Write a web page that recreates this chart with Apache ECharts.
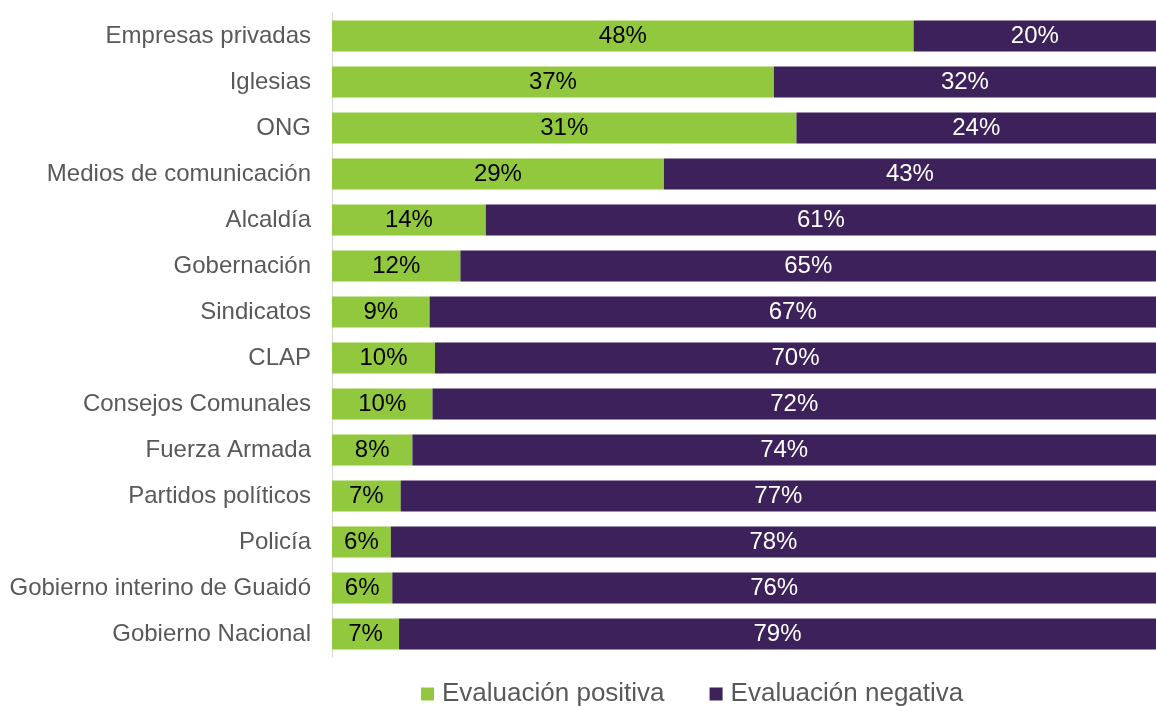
<!DOCTYPE html>
<html>
<head>
<meta charset="utf-8">
<script src="https://cdn.jsdelivr.net/npm/echarts@6/dist/echarts.min.js"></script>
<style>
  html, body { margin: 0; padding: 0; background: #fff; }
  #chart { width: 1156px; height: 706px; }
</style>
</head>
<body>
<div id="chart"></div>
<script>
const categories = [
  'Empresas privadas', 'Iglesias', 'ONG', 'Medios de comunicación', 'Alcaldía',
  'Gobernación', 'Sindicatos', 'CLAP', 'Consejos Comunales', 'Fuerza Armada',
  'Partidos políticos', 'Policía', 'Gobierno interino de Guaidó', 'Gobierno Nacional'
]
const positiva = [48, 37, 31, 29, 14, 12, 9, 10, 10, 8, 7, 6, 6, 7]
const negativa = [20, 32, 24, 43, 61, 65, 67, 70, 72, 74, 77, 78, 76, 79]

// bars are drawn as shares of (positiva + negativa), labels keep the raw %
const share = (arr) => arr.map((v, i) => v / (positiva[i] + negativa[i]))

const chart = echarts.init(document.getElementById('chart'))
const fontFamily = '"Liberation Sans", Arial, sans-serif'

chart.setOption({
  animation: false,
  textStyle: { fontFamily },
  grid: { left: 332, right: 0, top: 13, bottom: 49 },
  legend: {
    top: 676,
    left: 416,
    itemWidth: 13,
    itemHeight: 13,
    itemGap: 45,
    icon: 'rect',
    textStyle: { fontSize: 26, color: '#595959', fontFamily, padding: [0, 0, 0, 3] },
    data: ['Evaluación positiva', 'Evaluación negativa']
  },
  xAxis: {
    type: 'value',
    min: 0,
    max: 1,
    show: false
  },
  yAxis: {
    type: 'category',
    inverse: true,
    data: categories,
    axisLine: { lineStyle: { color: '#d9d9d9', width: 1 } },
    axisTick: { show: false },
    axisLabel: { fontSize: 24, color: '#595959', margin: 21, fontFamily, padding: [4, 0, 0, 0] }
  },
  series: [
    {
      name: 'Evaluación positiva',
      type: 'bar',
      stack: 'total',
      barCategoryGap: '33%',
      itemStyle: { color: '#92c83e' },
      label: {
        show: true,
        position: 'inside',
        fontSize: 24,
        color: '#000',
        fontFamily,
        formatter: (p) => positiva[p.dataIndex] + '%'
      },
      data: share(positiva)
    },
    {
      name: 'Evaluación negativa',
      type: 'bar',
      stack: 'total',
      barCategoryGap: '33%',
      itemStyle: { color: '#3c215a' },
      label: {
        show: true,
        position: 'inside',
        fontSize: 24,
        color: '#fff',
        fontFamily,
        formatter: (p) => negativa[p.dataIndex] + '%'
      },
      data: share(negativa)
    }
  ]
})
</script>
</body>
</html>
